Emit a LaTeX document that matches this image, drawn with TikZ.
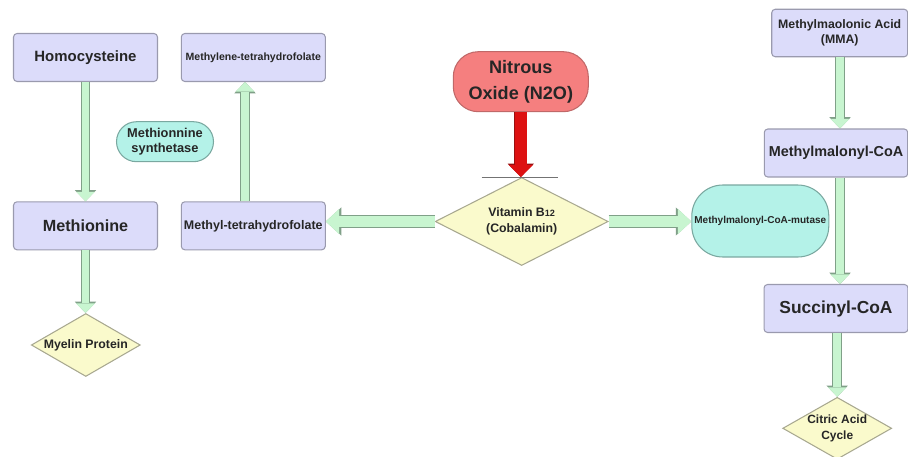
\documentclass[tikz,border=0pt]{standalone}
\usepackage{fontspec}
\setmainfont{Liberation Sans}
\usetikzlibrary{arrows.meta,shapes.geometric}

\definecolor{boxfill}{HTML}{DCDCFA}
\definecolor{boxedge}{HTML}{9A9AAE}
\definecolor{decfill}{HTML}{FAFACC}
\definecolor{decedge}{HTML}{A8A890}
\definecolor{enzfill}{HTML}{B4F2E8}
\definecolor{enzedge}{HTML}{7AA8A0}
\definecolor{gasfill}{HTML}{F57F7F}
\definecolor{gasedge}{HTML}{C06868}
\definecolor{flowfill}{HTML}{C8F5D0}
\definecolor{flowedge}{HTML}{80A088}
\definecolor{blockred}{HTML}{DD1111}
\definecolor{blockedge}{HTML}{991010}

\tikzset{
  base/.style={draw, line width=0.6pt, align=center, inner sep=0pt, text=black!85},
  proc/.style={base, rectangle, rounded corners=2pt, fill=boxfill, draw=boxedge, minimum height=0.96cm},
  decide/.style={base, diamond, fill=decfill, draw=decedge},
  enzyme/.style={base, rectangle, fill=enzfill, draw=enzedge},
  flow/.style={line width=4.4pt, draw=flowfill, -{Triangle[length=5.4pt,width=10.6pt,line width=0pt]},
    preaction={draw=flowedge, line width=5.4pt, -{Triangle[length=6.4pt,width=12.2pt,line width=0pt]}}},
  flowwide/.style={line width=6.6pt, draw=flowfill, -{Triangle[length=7.6pt,width=14.4pt,line width=0pt]},
    preaction={draw=flowedge, line width=7.6pt, -{Triangle[length=8.8pt,width=16pt,line width=0pt]}}},
  block/.style={line width=6.6pt, draw=blockred, -{Triangle[length=6.8pt,width=13.6pt,line width=0pt]},
    preaction={draw=blockedge, line width=7.4pt, -{Triangle[length=7.6pt,width=15pt,line width=0pt]}}}
}

\begin{document}
\begin{tikzpicture}[x=0.02cm, y=-0.02cm]
  \useasboundingbox (0,0) rectangle (908,456);

  % left side
  \node[proc, minimum width=2.88cm, font=\fontsize{8.5}{10}\selectfont\bfseries] (homocys) at (85.5,57.5) {Homocysteine};
  \node[proc, minimum width=2.88cm, font=\fontsize{6}{7}\selectfont\bfseries] (methylene) at (253.3,57.5) {Methylene-tetrahydrofolate};
  \node[proc, minimum width=2.88cm, font=\fontsize{9.2}{11}\selectfont\bfseries] (methionine) at (85.5,225.8) {Methionine};
  \node[proc, minimum width=2.88cm, font=\fontsize{7.1}{8.5}\selectfont\bfseries] (methylthf) at (253.3,225.8) {Methyl-tetrahydrofolate};
  \node[enzyme, rounded corners=0.4cm, minimum width=1.94cm, minimum height=0.8cm,
    font=\fontsize{7.3}{9}\selectfont\bfseries] (synth) at (165,141.7) {Methionnine\\synthetase};
  \node[decide, aspect=1.75, minimum width=2.18cm, minimum height=1.26cm,
    font=\fontsize{7}{8.5}\selectfont\bfseries] (myelin) at (85.8,345) {Myelin Protein};

  % centre
  \node[base, rectangle, rounded corners=0.5cm, fill=gasfill, draw=gasedge, minimum width=2.7cm, minimum height=1.2cm,
    font=\fontsize{10.3}{14.5}\selectfont\bfseries] (nitrous) at (520.8,81.7) {Nitrous\\Oxide (N2O)};
  \node[decide, aspect=1.97, minimum width=3.46cm, minimum height=1.76cm,
    font=\fontsize{7}{9}\selectfont\bfseries] (vitamin) at (521.7,221.5)
    {Vitamin B{\fontsize{5.2}{6}\selectfont 12}\\(Cobalamin)};

  % right side
  \node[enzyme, rounded corners=0.62cm, minimum width=2.74cm, minimum height=1.44cm,
    font=\fontsize{5.7}{7}\selectfont\bfseries] (mutase) at (760.3,221) {Methylmalonyl-CoA-mutase};
  \node[proc, minimum width=2.72cm, minimum height=0.95cm, font=\fontsize{7}{8.5}\selectfont\bfseries] (mma) at (839.7,33)
    {Methylmaolonic Acid\\(MMA)};
  \node[proc, minimum width=2.87cm, font=\fontsize{8.2}{10}\selectfont\bfseries] (mmcoa) at (836,153) {Methylmalonyl-CoA};
  \node[proc, minimum width=2.88cm, font=\fontsize{9.9}{12}\selectfont\bfseries] (succinyl) at (836,308.5) {Succinyl-CoA};
  \node[decide, aspect=1.8, minimum width=2.18cm, minimum height=1.24cm,
    font=\fontsize{6.8}{9}\selectfont\bfseries] (citric) at (837.2,428.3) {Citric Acid\\Cycle};

  \coordinate (upline) at (245,0);
  \coordinate (rightline) at (840,0);

  % connectors
  \draw[flow] (homocys) -- (methionine);
  \draw[flow] (methionine) -- (methionine.center |- myelin.north);
  \draw[flow] (methylthf.north -| upline) -- (methylene.south -| upline);
  \draw[flowwide] (vitamin.west) -- (methylthf.east |- vitamin.west);
  \draw[flowwide] (vitamin.east) -- (mutase.west |- vitamin.east);
  \draw[flow] (mma.south -| rightline) -- (mmcoa.north -| rightline);
  \draw[flow] (mmcoa.south -| rightline) -- (succinyl.north -| rightline);
  \draw[flow] (succinyl.south -| citric.north) -- (citric.north);
  \draw[block] (nitrous.south) -- (nitrous.south |- vitamin.north);
  \draw[draw=black!55, line width=0.5pt] ([xshift=-0.8cm]vitamin.north) -- ([xshift=0.72cm]vitamin.north);
\end{tikzpicture}
\end{document}
